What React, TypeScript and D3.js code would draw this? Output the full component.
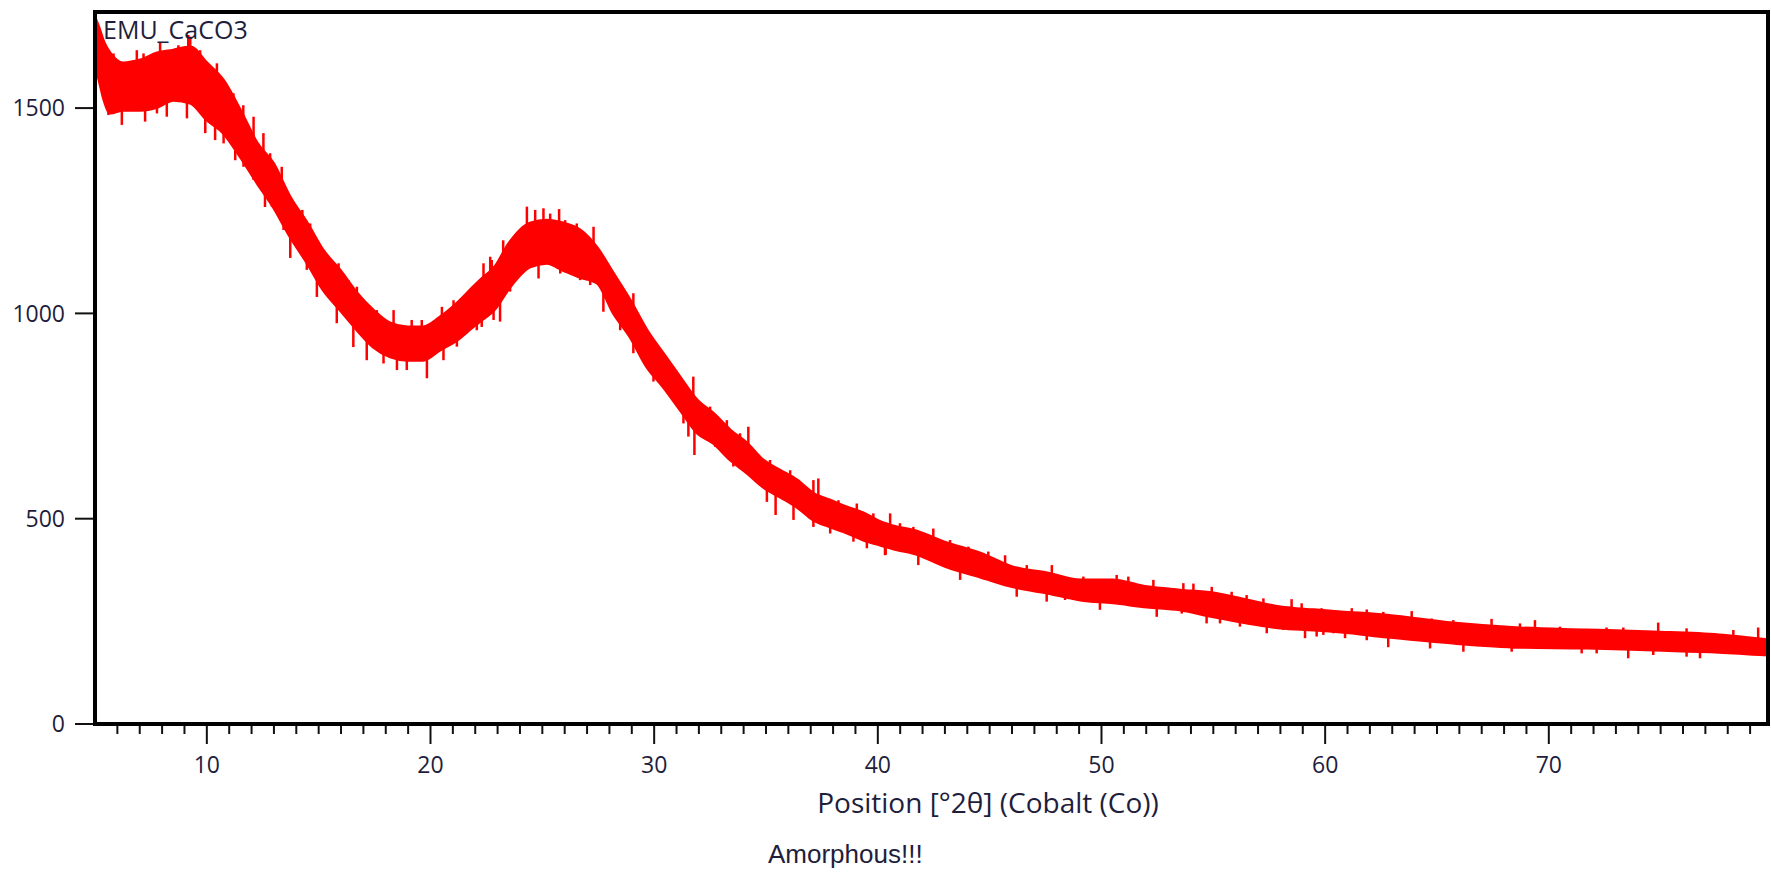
import React from "react";
import * as d3 from "d3";

// Diffraction pattern: band envelope (upper / lower counts)
const angles = [5.0,5.15,5.4,5.68,6.26,7.02,7.78,8.5,9.26,10.0,10.74,11.5,12.25,12.97,13.73,14.49,15.2,15.96,16.72,17.44,18.2,18.96,19.67,20.43,21.19,21.9,22.2,22.9,23.5,24.45,25.2,25.93,26.69,27.45,28.17,28.93,29.68,30.4,31.16,31.92,32.64,33.4,34.15,34.87,35.63,36.39,37.11,37.87,38.63,39.35,40.1,40.86,41.58,43.1,44.58,46.05,47.57,49.05,50.5,52.04,53.5,55.0,56.5,58.0,59.5,60.7,62.77,65.7,68.7,71.7,74.66,77.6,79.8];
const upper = [1720,1700,1660,1634,1610,1617,1634,1641,1649,1610,1568,1495,1415,1366,1283,1220,1154,1105,1049,1008,976,967,967,991,1025,1064,1080,1115,1170,1220,1227,1220,1203,1160,1098,1032,959,903,845,789,757,716,684,643,618,594,562,545,528,514,493,480,472,441,416,382,368,351,351,334,326,319,302,285,278,273,265,246,234,229,224,217,205];
const lower = [1600,1575,1520,1488,1495,1495,1502,1519,1512,1471,1439,1381,1317,1259,1186,1122,1057,1008,959,918,894,886,886,911,935,967,980,1012,1060,1113,1122,1105,1088,1074,1001,942,869,821,765,709,684,643,611,577,553,528,497,480,465,448,436,424,416,382,358,334,319,302,295,285,278,261,246,234,229,224,212,197,187,185,180,175,168];

// Noise spikes: [angle, counts]
const spikesUp: [number, number][] = [
  [5.83,1633],[6.57,1609],[6.87,1641],[7.17,1633],[7.47,1625],[7.91,1661],[8.51,1633],[8.73,1653],[9.03,1649],[9.17,1678],[9.26,1674],[9.7,1641],
  [10.45,1609],[11.19,1536],[11.63,1507],[12.09,1479],[12.53,1439],[12.83,1390],[13.35,1357],[14.02,1260],[14.27,1252],[14.62,1219],[15.22,1154],
  [15.89,1122],[16.33,1081],[16.71,1065],[17.6,1008],[18.35,1008],[19.16,984],[19.61,984],[20.51,1016],[21.03,1032],[21.47,1041],[22.37,1122],
  [22.67,1138],[22.74,1130],[23.25,1178],[23.71,1174],[24.01,1203],[24.31,1260],[24.68,1252],[24.83,1227],[25.05,1256],[25.35,1243],[25.75,1254],
  [26.02,1227],[26.54,1219],[26.91,1183],[27.29,1211],[27.88,1118],[28.33,1073],[28.78,1041],[29.07,1049],[29.52,959],[30.27,903],[30.86,870],
  [31.16,846],[31.75,846],[32.5,773],[33.25,740],[33.84,708],[34.21,724],[35.18,643],[36.08,618],[37.12,594],[37.34,598],[38.24,545],[39.06,537],
  [39.8,513],[40.55,513],[40.99,489],[41.59,480],[42.48,476],[43.23,448],[44.05,432],[44.94,420],[45.69,411],[46.66,387],[47.4,371],[47.78,387],
  [48.3,359],[49.19,359],[50.68,363],[51.2,359],[52.32,351],[53.21,330],[53.66,343],[54.11,342],[54.93,334],[55.82,322],[56.49,314],[57.24,306],
  [58.5,304],[58.95,294],[59.84,282],[61.19,282],[61.86,279],[62.6,273],[63.87,275],[64.76,257],[65.73,253],[67.44,256],[68.71,245],[69.38,253],
  [70.5,237],[71.39,230],[72.58,235],[73.33,235],[74.89,247],[76.16,233],[78.25,229],[79.36,235]
];
const spikesDown: [number, number][] = [
  [5.6,1483],[6.2,1459],[6.72,1495],[7.24,1467],[7.77,1487],[8.21,1479],[9.11,1475],[9.93,1439],[10.37,1422],[10.75,1414],[11.27,1373],[11.64,1357],
  [12.09,1325],[12.6,1259],[12.91,1260],[13.43,1203],[13.73,1135],[14.47,1106],[14.92,1040],[15.07,1065],[15.81,976],[16.55,918],[17.15,886],
  [17.9,878],[18.5,862],[18.94,862],[19.84,842],[20.58,886],[21.18,919],[22.07,959],[22.29,967],[22.82,984],[23.11,980],[23.56,1053],[24.83,1085],
  [25.8,1097],[26.69,1081],[27.14,1069],[27.73,1004],[28.48,959],[29.07,903],[29.97,834],[30.79,797],[31.31,732],[31.53,700],[31.8,655],[32.73,675],
  [33.54,627],[34.14,610],[35.04,541],[35.43,509],[36.23,497],[37.12,480],[37.87,464],[38.91,444],[39.51,428],[40.32,411],[40.35,412],[40.77,424],
  [41.81,387],[43.68,351],[46.21,310],[47.55,298],[48.37,302],[49.93,278],[50.83,290],[51.57,286],[52.47,261],[53.59,269],[54.7,245],[55.3,245],
  [56.19,237],[57.39,221],[58.13,229],[59.1,209],[59.62,213],[59.92,217],[60.37,221],[60.89,209],[61.86,204],[62.82,187],[64.69,184],[66.18,176],
  [67.22,188],[68.34,176],[70.05,184],[71.47,172],[72.14,172],[73.55,160],[74.67,168],[76.16,164],[76.76,160],[78.69,168]
];

const xMajorTicks = [10, 20, 30, 40, 50, 60, 70];
const yTicks = [0, 500, 1000, 1500];
const sampleName = "EMU_CaCO3";
const xTitle = "Position [°2θ] (Cobalt (Co))";
const note = "Amorphous!!!";

const W = 1771, H = 873;
const L = 95, R = 1768, T = 12, B = 724;

export default function App() {
  const x = d3.scaleLinear().domain([5, 79.8]).range([L, R]);
  const y = d3.scaleLinear().domain([0, 1734]).range([B, T]);

  const rows = angles.map((a, i) => ({ a, hi: upper[i], lo: lower[i] }));
  const area = d3.area<{ a: number; hi: number; lo: number }>()
    .x(d => x(d.a)).y0(d => y(d.lo)).y1(d => y(d.hi)).curve(d3.curveMonotoneX);

  const mid = (a: number) => {
    const i = Math.max(1, Math.min(angles.length - 1, d3.bisectLeft(angles, a)));
    const t = (a - angles[i - 1]) / (angles[i] - angles[i - 1]);
    const m0 = (upper[i - 1] + lower[i - 1]) / 2, m1 = (upper[i] + lower[i]) / 2;
    return m0 + (m1 - m0) * t;
  };

  const minorTicks = d3.range(6, 80).filter(v => v % 10 !== 0);
  const tickFont = "'Open Sans', sans-serif";
  const textColor = "#1e1e3c";
  const allSpikes = spikesUp.concat(spikesDown);

  return (
    <svg width={W} height={H} style={{ position: "absolute", left: 0, top: 0, background: "#fff" }}>
      <defs>
        <clipPath id="plot"><rect x={L} y={T} width={R - L} height={B - T} /></clipPath>
      </defs>
      <g clipPath="url(#plot)">
        <path d={area(rows) || ""} fill="#ff0000" stroke="#ff0000" strokeWidth={3} strokeLinejoin="round" />
        {allSpikes.map(([a, v], i) => (
          <line key={i} x1={x(a)} x2={x(a)} y1={y(mid(a))} y2={y(v)} stroke="#ff0000" strokeWidth={2.5} />
        ))}
      </g>
      {yTicks.map(t => (
        <g key={t}>
          <line x1={L - 20} x2={L} y1={y(t)} y2={y(t)} stroke="#111" strokeWidth={2} />
          <text x={65} y={y(t)} dy="0.36em" textAnchor="end" fontFamily={tickFont} fontSize={23} fill={textColor}>{t}</text>
        </g>
      ))}
      {minorTicks.map(t => (
        <line key={t} x1={x(t)} x2={x(t)} y1={B} y2={B + 10} stroke="#111" strokeWidth={2} />
      ))}
      {xMajorTicks.map(t => (
        <g key={t}>
          <line x1={x(t)} x2={x(t)} y1={B} y2={B + 20} stroke="#111" strokeWidth={2} />
          <text x={x(t)} y={773} textAnchor="middle" fontFamily={tickFont} fontSize={23} fill={textColor}>{t}</text>
        </g>
      ))}
      <rect x={L} y={T} width={R - L} height={B - T} fill="none" stroke="#000" strokeWidth={4} />
      <text x={103} y={39} fontFamily={tickFont} fontSize={25} fill={textColor}>{sampleName}</text>
      <text x={988} y={813} textAnchor="middle" fontFamily={tickFont} fontSize={28} fill={textColor}>{xTitle}</text>
      <text x={768} y={863} fontFamily="'Liberation Sans', Arial, sans-serif" fontSize={26} fill={textColor}>{note}</text>
    </svg>
  );
}
